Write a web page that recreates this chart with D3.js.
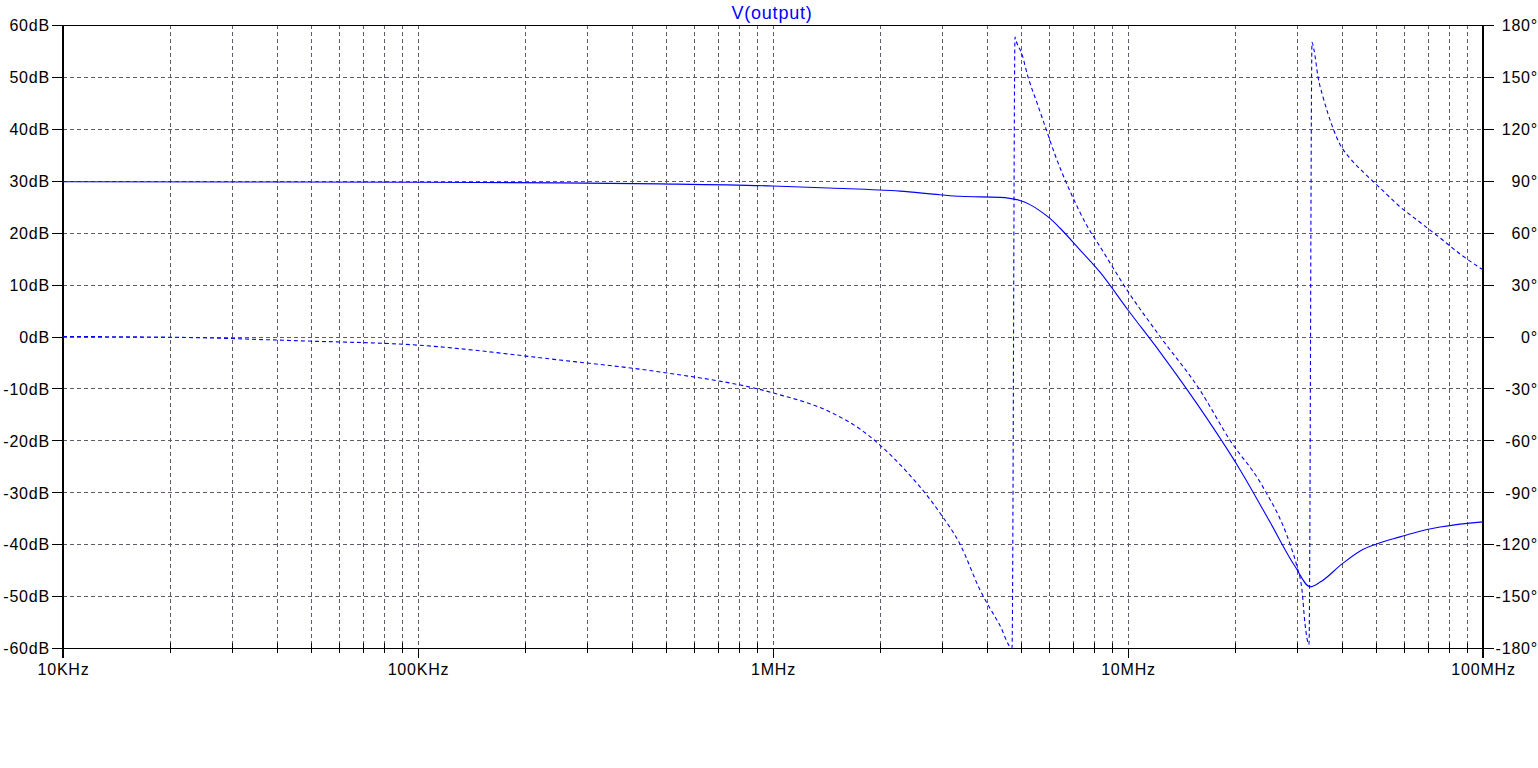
<!DOCTYPE html>
<html>
<head>
<meta charset="utf-8">
<script src="https://cdn.jsdelivr.net/npm/d3@7"></script>
<style>
  html, body { margin: 0; padding: 0; background: #ffffff; }
  svg { display: block; }
  text { font-family: "Liberation Sans", Arial, sans-serif; }
</style>
</head>
<body>
<svg id="chart" width="1538" height="768"></svg>
<script>
// ---------- data ----------
const titleText = "V(output)";

const magFreqHz = [1e4, 1e5, 2.512e5, 4.806e5, 1e6, 1.447e6, 2.279e6, 2.954e6, 3.364e6, 4.359e6,
  4.96e6, 5.295e6, 5.65e6, 6.04e6, 6.43e6, 7.32e6, 8.34e6, 1e7, 1.231e7, 1.595e7, 2.07e7,
  2.51e7, 2.95e7, 3.26e7, 3.48e7, 4.01e7, 4.51e7, 5.0e7, 5.84e7, 6.65e7, 7.57e7, 1e8];
const magDb = [29.8, 29.7, 29.6, 29.4, 29.0, 28.6, 28.0, 27.3, 27.0, 26.8,
  26.2, 25.4, 24.2, 22.7, 20.9, 16.7, 12.4, 5.1, -3.0, -13.8, -25.7,
  -35.7, -44.2, -48.2, -47.3, -43.8, -41.3, -40.0, -38.6, -37.5, -36.7, -35.7];

const phaseFreqHz = [1e4, 2.136e4, 4.652e4, 1e5, 2.512e5, 4.806e5, 1e6, 1.447e6, 1.759e6, 2.279e6,
  2.954e6, 3.364e6, 3.830e6, 4.359e6, 4.713e6, 4.806e6, 4.837e6, 5.029e6, 5.228e6, 5.543e6,
  5.875e6, 6.229e6, 6.865e6, 7.664e6, 8.337e6, 1e7, 1.231e7, 1.595e7, 1.938e7, 2.385e7,
  2.860e7, 2.993e7, 3.091e7, 3.152e7, 3.235e7, 3.299e7, 3.342e7, 3.430e7, 3.543e7, 3.755e7,
  3.955e7, 4.221e7, 4.652e7, 5.029e7, 5.365e7, 5.762e7, 6.645e7, 7.564e7, 8.614e7, 1e8];
const phaseDeg = [0, -0.5, -2.5, -5, -13.6, -20.5, -32.6, -43.6, -53.5, -74,
  -102, -120, -146.5, -167, -180, 173, 171, 163, 150, 135,
  120, 105, 84, 64, 52, 26, 0, -31, -60, -86,
  -120, -133, -146.5, -166, -178, 170, 165.5, 150, 138.4, 122,
  111, 103, 94, 87.5, 82, 76, 66, 57, 47.7, 38.5];

const magTickValues = [-60, -50, -40, -30, -20, -10, 0, 10, 20, 30, 40, 50, 60];
const phaseTickValues = [-180, -150, -120, -90, -60, -30, 0, 30, 60, 90, 120, 150, 180];
const freqDecades = [1e4, 1e5, 1e6, 1e7, 1e8];
const freqLabels = ["10KHz", "100KHz", "1MHz", "10MHz", "100MHz"];
const minorMultipliers = [2, 3, 4, 5, 6, 7, 8, 9];

// ---------- layout ----------
const plotL = 63, plotR = 1483, plotT = 25, plotB = 648;
const gridColor = "#625a66";
const traceColor = "#0000ff";

const svg = d3.select("#chart");
svg.append("rect").attr("width", 1538).attr("height", 768).attr("fill", "#ffffff");

const x = d3.scaleLog().domain([1e4, 1e8]).range([plotL, plotR]);
const yMag = d3.scaleLinear().domain([-60, 60]).range([plotB, plotT]);
const yPh = d3.scaleLinear().domain([-180, 180]).range([plotB, plotT]);

// minor frequencies
const minorFreqs = [];
freqDecades.slice(0, -1).forEach(d => minorMultipliers.forEach(m => minorFreqs.push(d * m)));
const gridFreqs = freqDecades.slice(1, -1).concat(minorFreqs);

// ---------- grid ----------
const grid = svg.append("g").attr("shape-rendering", "crispEdges");
grid.selectAll("line.v").data(gridFreqs).join("line")
  .attr("class", "v")
  .attr("x1", d => Math.round(x(d)) + 0.5).attr("x2", d => Math.round(x(d)) + 0.5)
  .attr("y1", plotT).attr("y2", plotB)
  .attr("stroke", gridColor).attr("stroke-width", 1).attr("stroke-dasharray", "4,3");
grid.selectAll("line.h").data(magTickValues.slice(1, -1)).join("line")
  .attr("class", "h")
  .attr("x1", plotL).attr("x2", plotR)
  .attr("y1", d => Math.round(yMag(d)) + 0.5).attr("y2", d => Math.round(yMag(d)) + 0.5)
  .attr("stroke", gridColor).attr("stroke-width", 1).attr("stroke-dasharray", "4,3");

// ---------- frame ----------
const frame = svg.append("g").attr("shape-rendering", "crispEdges").attr("stroke", "#000");
frame.append("line").attr("x1", plotL).attr("x2", plotR).attr("y1", plotT + 0.5).attr("y2", plotT + 0.5).attr("stroke-width", 1);
frame.append("line").attr("x1", plotL).attr("x2", plotR).attr("y1", plotB + 0.5).attr("y2", plotB + 0.5).attr("stroke-width", 1);
frame.append("line").attr("x1", plotL).attr("x2", plotL).attr("y1", plotT).attr("y2", plotB + 10).attr("stroke-width", 2);
frame.append("line").attr("x1", plotR).attr("x2", plotR).attr("y1", plotT).attr("y2", plotB + 10).attr("stroke-width", 2);

// ---------- axes ----------
function styleAxis(g) {
  g.select(".domain").remove();
  g.selectAll(".tick line").attr("stroke", "#000").attr("shape-rendering", "crispEdges");
  g.selectAll(".tick text").attr("fill", "#000").attr("font-size", 16)
    .attr("letter-spacing", "0.8px")
    .attr("font-family", "'Liberation Sans', Arial, sans-serif");
}

const leftAxis = svg.append("g").attr("transform", `translate(${plotL - 1},0)`)
  .call(d3.axisLeft(yMag).tickValues(magTickValues).tickSize(10).tickPadding(2).tickFormat(d => d + "dB"))
  .call(styleAxis);
leftAxis.selectAll(".tick text").attr("dy", "0.36em");

const rightAxis = svg.append("g").attr("transform", `translate(${plotR + 1},0)`)
  .call(d3.axisRight(yPh).tickValues(phaseTickValues).tickSize(10).tickFormat(d => d + "°"))
  .call(styleAxis);
rightAxis.selectAll(".tick text").attr("text-anchor", "end").attr("x", 1538 - plotR - 1).attr("dy", "0.36em");

const bottomAxis = svg.append("g").attr("transform", `translate(0,${plotB})`)
  .call(d3.axisBottom(x).tickValues(freqDecades).tickSize(10).tickPadding(5)
    .tickFormat((d, i) => freqLabels[i]))
  .call(styleAxis);
bottomAxis.selectAll(".tick text").attr("dy", "0.71em").attr("y", 16);

svg.append("g").attr("shape-rendering", "crispEdges")
  .selectAll("line").data(minorFreqs).join("line")
  .attr("x1", d => Math.round(x(d)) + 0.5).attr("x2", d => Math.round(x(d)) + 0.5)
  .attr("y1", plotB - 5).attr("y2", plotB + 5)
  .attr("stroke", "#000").attr("stroke-width", 1);

// ---------- title ----------
svg.append("text").attr("x", 772).attr("y", 19).attr("text-anchor", "middle")
  .attr("font-size", 18).attr("letter-spacing", "0.8px").attr("fill", traceColor).text(titleText);

// ---------- traces ----------
const clip = svg.append("clipPath").attr("id", "plotclip");
clip.append("rect").attr("x", plotL).attr("y", plotT - 1).attr("width", plotR - plotL).attr("height", plotB - plotT + 2);

const magLine = d3.line().x((d, i) => x(magFreqHz[i])).y(d => yMag(d)).curve(d3.curveMonotoneX);
const phLine = d3.line().x((d, i) => x(phaseFreqHz[i])).y(d => yPh(d)).curve(d3.curveMonotoneX);

const traces = svg.append("g").attr("clip-path", "url(#plotclip)");
traces.append("path").attr("d", magLine(magDb))
  .attr("fill", "none").attr("stroke", traceColor).attr("stroke-width", 1.1);
traces.append("path").attr("d", phLine(phaseDeg))
  .attr("fill", "none").attr("stroke", traceColor).attr("stroke-width", 1.1)
  .attr("stroke-dasharray", "4,3");
</script>
</body>
</html>
